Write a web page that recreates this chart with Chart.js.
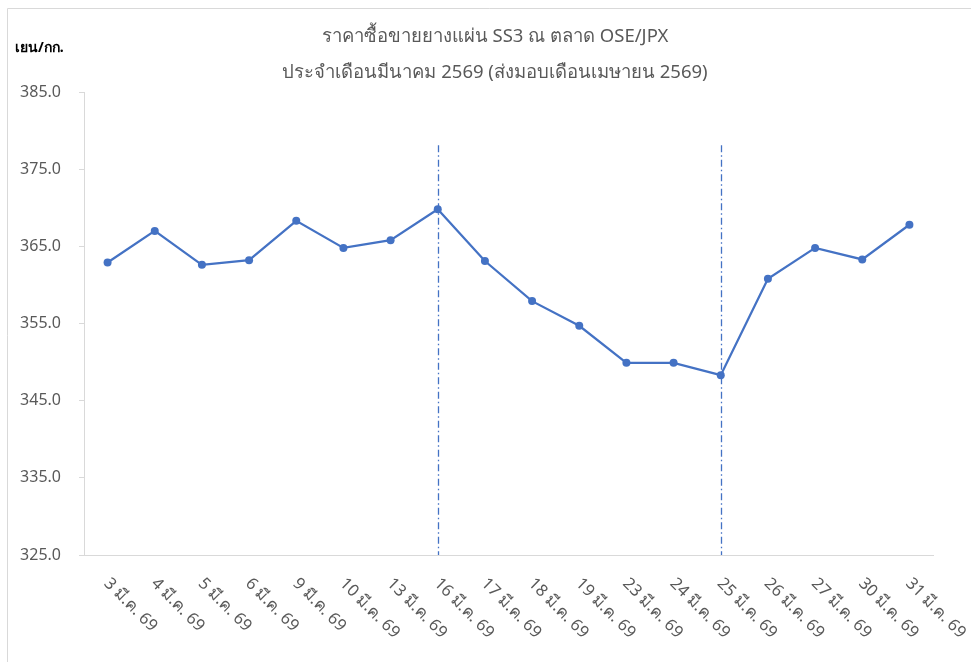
<!DOCTYPE html>
<html>
<head>
<meta charset="utf-8">
<script src="https://cdn.jsdelivr.net/npm/chart.js@4"></script>
<style>
html,body{margin:0;padding:0;background:#fff;}
#wrap{width:971px;height:662px;position:relative;}
</style>
</head>
<body>
<div id="wrap"><canvas id="c" width="971" height="662"></canvas></div>
<script>
const categories = ["3 มี.ค. 69","4 มี.ค. 69","5 มี.ค. 69","6 มี.ค. 69","9 มี.ค. 69","10 มี.ค. 69","13 มี.ค. 69","16 มี.ค. 69","17 มี.ค. 69","18 มี.ค. 69","19 มี.ค. 69","23 มี.ค. 69","24 มี.ค. 69","25 มี.ค. 69","26 มี.ค. 69","27 มี.ค. 69","30 มี.ค. 69","31 มี.ค. 69"];
const prices = [362.9, 367.0, 362.6, 363.2, 368.3, 364.8, 365.8, 369.8, 363.1, 357.9, 354.7, 349.9, 349.9, 348.3, 360.8, 364.8, 363.3, 367.8];
const markerCategories = ["16 มี.ค. 69", "25 มี.ค. 69"];
const markerTop = 378.1;
const titleLines = ["ราคาซื้อขายยางแผ่น SS3 ณ ตลาด OSE/JPX", "ประจำเดือนมีนาคม 2569 (ส่งมอบเดือนเมษายน 2569)"];
const unitLabel = "เยน/กก.";
const yMin = 325, yMax = 385, yStep = 10;

const FONT = "'Noto Sans', 'Open Sans', sans-serif";
const GREY = '#595959';
const BLUE = '#4472C4';

const decor = {
  id: 'decor',
  beforeDraw(chart) {
    const ctx = chart.ctx;
    ctx.save();
    ctx.strokeStyle = '#d9d9d9';
    ctx.lineWidth = 1;
    ctx.beginPath();
    ctx.moveTo(7.5, 662);
    ctx.lineTo(7.5, 8.5);
    ctx.lineTo(971, 8.5);
    ctx.stroke();
    ctx.restore();
  },
  afterDatasetsDraw(chart) {
    const ctx = chart.ctx;
    const xs = chart.scales.x, ys = chart.scales.y;
    ctx.save();
    ctx.strokeStyle = BLUE;
    ctx.lineWidth = 1.3;
    ctx.setLineDash([7, 3, 1.5, 3]);
    markerCategories.forEach(c => {
      const x = Math.round(xs.getPixelForValue(categories.indexOf(c))) + 0.5;
      ctx.beginPath();
      ctx.moveTo(x, ys.getPixelForValue(markerTop));
      ctx.lineTo(x, ys.getPixelForValue(yMin));
      ctx.stroke();
    });
    ctx.restore();
  },
  afterDraw(chart) {
    const ctx = chart.ctx;
    const xs = chart.scales.x, ys = chart.scales.y;
    ctx.save();
    // title
    ctx.fillStyle = GREY;
    ctx.font = "18.5px " + FONT;
    ctx.textAlign = 'center';
    ctx.textBaseline = 'middle';
    titleLines.forEach((t, i) => ctx.fillText(t, 495, 37 + i * 36));
    // unit label
    ctx.fillStyle = '#000';
    ctx.font = "bold 14px " + FONT;
    ctx.textAlign = 'left';
    ctx.textBaseline = 'middle';
    ctx.fillText(unitLabel, 15, 48);
    // rotated x labels
    ctx.fillStyle = GREY;
    ctx.font = "16.5px " + FONT;
    const base = ys.getPixelForValue(yMin);
    categories.forEach((c, i) => {
      const x = xs.getPixelForValue(i);
      ctx.save();
      ctx.translate(x - 1, base + 26);
      ctx.rotate(Math.PI / 4);
      ctx.textAlign = 'left';
      ctx.textBaseline = 'middle';
      ctx.fillText(c, 0, 0);
      ctx.restore();
    });
    ctx.restore();
  }
};

new Chart(document.getElementById('c'), {
  type: 'line',
  data: {
    labels: categories,
    datasets: [{
      data: prices,
      borderColor: BLUE,
      backgroundColor: BLUE,
      borderWidth: 2.25,
      pointRadius: 4,
      pointBorderWidth: 0,
      pointBackgroundColor: BLUE,
      tension: 0
    }]
  },
  options: {
    responsive: false,
    animation: false,
    devicePixelRatio: 1,
    layout: { padding: { left: 0, right: 38, top: 92, bottom: 0 } },
    plugins: {
      legend: { display: false },
      tooltip: { enabled: false },
      title: { display: false }
    },
    scales: {
      x: {
        type: 'category',
        offset: true,
        grid: { display: false },
        border: { color: '#d9d9d9', width: 1 },
        ticks: { display: false },
        afterFit(s) { s.height = 662 - 555; }
      },
      y: {
        min: yMin, max: yMax,
        grid: { drawOnChartArea: false, drawTicks: true, tickLength: 5, color: '#d9d9d9' },
        border: { color: '#d9d9d9', width: 1 },
        ticks: {
          stepSize: yStep,
          padding: 18,
          color: GREY,
          font: { family: FONT, size: 16 },
          callback: v => Number(v).toFixed(1)
        },
        afterFit(s) { s.width = 84; }
      }
    }
  },
  plugins: [decor]
});
</script>
</body>
</html>
